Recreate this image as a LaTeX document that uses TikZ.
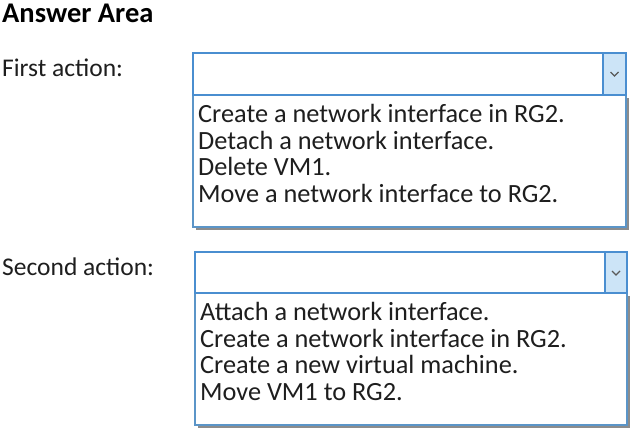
\documentclass[tikz,border=0pt]{standalone}
\usepackage{fontspec}
\setmainfont{Carlito}
\usetikzlibrary{positioning,calc}
\definecolor{bordblue}{HTML}{4A8ED0}
\definecolor{btnfill}{HTML}{CCE4F7}
\definecolor{listbord}{HTML}{5B95C8}
\definecolor{shadowgrey}{HTML}{8C8C8C}
\definecolor{txt}{HTML}{1E1E1E}
\tikzset{
  lbl/.style={anchor=base west, inner sep=0pt, font=\fontsize{25.5}{28}\selectfont, text=txt},
  title/.style={anchor=base west, inner sep=0pt, font=\bfseries\fontsize{28.5}{31}\selectfont, text=black},
  item/.style={anchor=base west, inner sep=0pt, font=\fontsize{26.3}{28}\selectfont, text=txt},
  combo/.style={draw=bordblue, line width=1.2pt, fill=white},
  btn/.style={draw=bordblue, line width=1.2pt, fill=btnfill},
  listbox/.style={draw=listbord, line width=1.2pt, fill=white},
  chev/.style={draw=gray!70!black, line width=1.1pt}
}
\begin{document}
\begin{tikzpicture}[x=1pt,y=-1pt]
\useasboundingbox (0,0) rectangle (634,430);
\fill[white] (0,0) rectangle (634,430);
\node[title] (title) at (2,23) {Answer Area};
\node[lbl] (first) at (2,77) {First action:};
\node[lbl] (second) at (2,276) {Second action:};
% first dropdown
\fill[shadowgrey] (196,98) rectangle (629,230);
\draw[listbox] (193,95) rectangle (626,227);
\draw[combo] (193,53) rectangle (626,95);
\draw[btn] (603,53) rectangle (626,95);
\coordinate (c1) at (614.5,74);
\draw[chev] ($(c1)+(-4,-2)$) -- ($(c1)+(0,2)$) -- ($(c1)+(4,-2)$);
\node[item] (a1) at (198,123) {Create a network interface in RG2.};
\node[item] (a2) at (198,149.5) {Detach a network interface.};
\node[item] (a3) at (198,176) {Delete VM1.};
\node[item] (a4) at (198,203) {Move a network interface to RG2.};
% second dropdown
\fill[shadowgrey] (198,296) rectangle (630,428);
\draw[listbox] (195,293) rectangle (627,425);
\draw[combo] (195,252) rectangle (627,293);
\draw[btn] (605,252) rectangle (627,293);
\coordinate (c2) at (616,273);
\draw[chev] ($(c2)+(-4,-2)$) -- ($(c2)+(0,2)$) -- ($(c2)+(4,-2)$);
\node[item] (b1) at (200,320) {Attach a network interface.};
\node[item] (b2) at (200,347) {Create a network interface in RG2.};
\node[item] (b3) at (200,373) {Create a new virtual machine.};
\node[item] (b4) at (200,400) {Move VM1 to RG2.};
\end{tikzpicture}
\end{document}
